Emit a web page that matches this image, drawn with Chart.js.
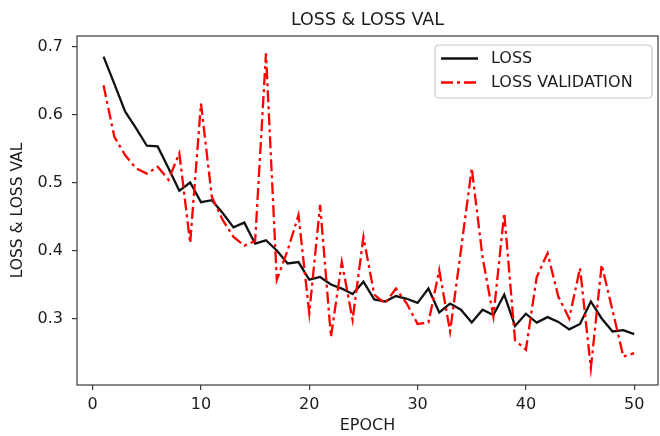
<!DOCTYPE html>
<html>
<head>
<meta charset="utf-8">
<script src="https://cdn.jsdelivr.net/npm/chart.js@4.4.1/dist/chart.umd.min.js"></script>
<style>
  html, body { margin: 0; padding: 0; background: #fff; }
  #wrap { width: 660px; height: 436px; }
</style>
</head>
<body>
<div id="wrap"><canvas id="c" width="660" height="436"></canvas></div>
<script>
// Training history per epoch
const epochs = [1,2,3,4,5,6,7,8,9,10,11,12,13,14,15,16,17,18,19,20,21,22,23,24,25,26,27,28,29,30,31,32,33,34,35,36,37,38,39,40,41,42,43,44,45,46,47,48,49,50];
const loss = [0.685,0.645,0.604,0.580,0.554,0.553,0.521,0.488,0.500,0.471,
              0.474,0.455,0.434,0.441,0.410,0.415,0.400,0.381,0.383,0.357,
              0.361,0.350,0.344,0.336,0.354,0.328,0.325,0.333,0.329,0.323,
              0.344,0.309,0.322,0.313,0.294,0.313,0.305,0.335,0.289,0.307,
              0.294,0.302,0.295,0.284,0.292,0.325,0.300,0.281,0.283,0.277];
const lossVal = [0.643,0.567,0.540,0.521,0.513,0.523,0.504,0.543,0.411,0.616,
                 0.479,0.445,0.420,0.407,0.414,0.690,0.357,0.400,0.452,0.308,
                 0.467,0.273,0.383,0.298,0.420,0.335,0.322,0.344,0.322,0.292,
                 0.294,0.371,0.281,0.400,0.521,0.390,0.303,0.455,0.268,0.254,
                 0.361,0.396,0.332,0.300,0.374,0.227,0.379,0.312,0.244,0.249];
const xTicks = [0, 10, 20, 30, 40, 50];
const yTicks = [0.3, 0.4, 0.5, 0.6, 0.7];

const FONT = "'DejaVu Sans', sans-serif";
const TEXT = '#1c1c1c';
const AXIS = '#3a3a3a';
const LINE_W = 2.3;
const VAL_DASH = [12, 4, 3, 4];

Chart.defaults.font.family = FONT;
Chart.defaults.color = TEXT;

const toPoints = arr => arr.map((v, i) => ({ x: epochs[i], y: v }));

// Frame, title and in-axes legend
const decorations = {
  id: 'decorations',
  afterDatasetsDraw(chart) {
    const { ctx, chartArea: a } = chart;
    ctx.save();
    // axes box
    ctx.strokeStyle = AXIS;
    ctx.lineWidth = 1.2;
    ctx.strokeRect(a.left, a.top, a.right - a.left, a.bottom - a.top);

    // title
    ctx.fillStyle = TEXT;
    ctx.font = "17.5px " + FONT;
    ctx.textAlign = 'center';
    ctx.textBaseline = 'middle';
    ctx.fillText('LOSS & LOSS VAL', (a.left + a.right) / 2, 20);

    // legend
    const bx = 435, by = 45, bw = 217, bh = 53, r = 4;
    ctx.beginPath();
    ctx.roundRect(bx, by, bw, bh, r);
    ctx.fillStyle = 'rgba(255,255,255,0.85)';
    ctx.fill();
    ctx.strokeStyle = '#c8c8c8';
    ctx.lineWidth = 1.2;
    ctx.stroke();

    const rows = [58.5, 82.5];
    chart.data.datasets.forEach((ds, i) => {
      const y = rows[i];
      ctx.beginPath();
      ctx.setLineDash(ds.borderDash || []);
      ctx.strokeStyle = ds.borderColor;
      ctx.lineWidth = ds.borderWidth;
      ctx.moveTo(441, y);
      ctx.lineTo(478, y);
      ctx.stroke();
      ctx.setLineDash([]);
      ctx.fillStyle = TEXT;
      ctx.font = "16px " + FONT;
      ctx.textAlign = 'left';
      ctx.textBaseline = 'middle';
      ctx.fillText(ds.label, 491, y);
    });
    ctx.restore();
  }
};

new Chart(document.getElementById('c'), {
  type: 'line',
  data: {
    datasets: [
      {
        label: 'LOSS',
        data: toPoints(loss),
        borderColor: '#111111',
        borderWidth: LINE_W,
        pointRadius: 0,
        tension: 0,
        fill: false,
        order: 1
      },
      {
        label: 'LOSS VALIDATION',
        data: toPoints(lossVal),
        borderColor: '#ff0000',
        borderWidth: LINE_W,
        borderDash: VAL_DASH,
        pointRadius: 0,
        tension: 0,
        fill: false,
        order: 0
      }
    ]
  },
  options: {
    responsive: false,
    animation: false,
    devicePixelRatio: 1,
    layout: { padding: { top: 36, right: 2, left: 0, bottom: 0 } },
    plugins: {
      legend: { display: false },
      title: { display: false },
      tooltip: { enabled: false }
    },
    scales: {
      x: {
        type: 'linear',
        min: -1.45,
        max: 52.2,
        afterBuildTicks: s => { s.ticks = xTicks.map(v => ({ value: v })); },
        afterFit: s => { s.height = 51; },
        grid: { drawOnChartArea: false, drawTicks: true, tickLength: 5, tickColor: AXIS, lineWidth: 1.2 },
        border: { display: false },
        ticks: { font: { size: 16 }, color: TEXT, padding: 5, maxRotation: 0 },
        title: { display: true, text: 'EPOCH', font: { size: 16 }, color: TEXT, padding: { top: 0, bottom: 1 } }
      },
      y: {
        type: 'linear',
        min: 0.2022,
        max: 0.7154,
        afterBuildTicks: s => { s.ticks = yTicks.map(v => ({ value: v })); },
        afterFit: s => { s.width = 77; },
        grid: { drawOnChartArea: false, drawTicks: true, tickLength: 5, tickColor: AXIS, lineWidth: 1.2 },
        border: { display: false },
        ticks: { font: { size: 16 }, color: TEXT, padding: 9, callback: v => Number(v).toFixed(1) },
        title: { display: true, text: 'LOSS & LOSS VAL', font: { size: 15.5 }, color: TEXT, padding: { top: 9, bottom: 0 } }
      }
    }
  },
  plugins: [decorations]
});
</script>
</body>
</html>
